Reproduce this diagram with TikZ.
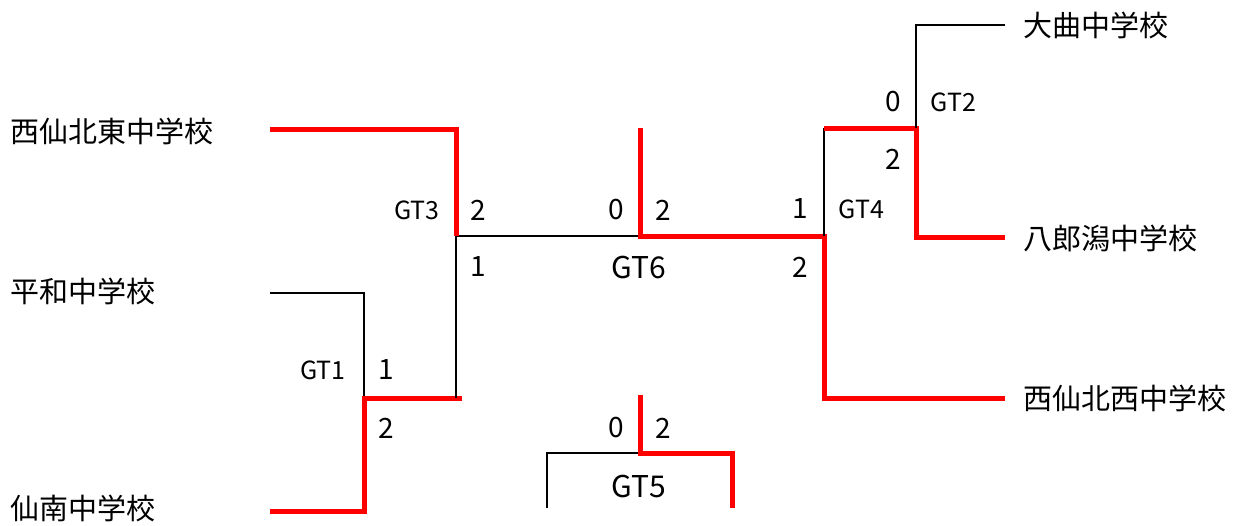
\documentclass[tikz,border=0pt]{standalone}
\usepackage{fontspec}
\setmainfont{Noto Sans CJK JP}
\begin{document}
\begin{tikzpicture}[x=0.5pt,y=-0.5pt,
	win/.style={red,line width=2.5pt},
	lose/.style={black,line width=0.8pt},
	team/.style={anchor=west,inner sep=0pt,font=\fontsize{14.5}{16}\selectfont},
	score/.style={inner sep=0pt,font=\fontsize{14}{16}\selectfont},
	gt/.style={inner sep=0pt,font=\fontsize{12.5}{14}\selectfont},
	gtbig/.style={inner sep=0pt,font=\fontsize{15}{17}\selectfont}]
		\useasboundingbox (0,0) rectangle (1236,525);
		\node[team] (nishiE) at (10,131) {西仙北東中学校};
		\node[team] (heiwa) at (10,291) {平和中学校};
		\node[team] (sennan) at (10,508) {仙南中学校};
		\node[team] (omagari) at (1023,25) {大曲中学校};
		\node[team] (hachiro) at (1023,238) {八郎潟中学校};
		\node[team] (nishiW) at (1023,398) {西仙北西中学校};
		\coordinate (e1) at (270,129);
		\coordinate (e2) at (270,293);
		\coordinate (e3) at (270,511);
		\coordinate (e4) at (1005,25);
		\coordinate (e5) at (1005,237);
		\coordinate (e6) at (1005,398);
		\coordinate (g1) at (364,398);
		\coordinate (g2) at (916,128);
		\coordinate (g3) at (456,236);
		\coordinate (g4) at (824,236);
		\coordinate (g6) at (640,236);
		\coordinate (g5) at (640,453);
		\coordinate (g5t) at (640,395);
		\coordinate (g5l) at (547,508);
		\coordinate (g5r) at (732,508);
		% GT1, GT3
		\draw[lose] (e2) -| (g1);
		\draw[win] (e3) -| (g1) -- ([xshift=3]g1 -| g3);
		\draw[lose] (g1 -| g3) -- (g3) -- (g6);
		\draw[win] (e1) -| (g3);
		% GT6, GT4, GT2
		\draw[win] (g6 |- g2) -- (g6) -- (g4) |- (e6);
		\draw[lose] (g4) -- (g4 |- g2);
		\draw[win] (g4 |- g2) -- (g2) |- (e5);
		\draw[lose] (g2) |- (e4);
		% GT5
		\draw[lose] (g5l) |- (g5);
		\draw[win] (g5t) -- (g5) -| (g5r);
		% labels
		\node[gt,anchor=east] (gt1) at (346,370) {GT1};
		\node[score] (s1a) at (386,370) {1};
		\node[score] (s1b) at (386,428) {2};
		\node[gt,anchor=east] (gt3) at (440,210) {GT3};
		\node[score] (s3a) at (478,210) {2};
		\node[score] (s3b) at (478,267) {1};
		\node[score] (s6a) at (616,210) {0};
		\node[score] (s6b) at (663,210) {2};
		\node[gtbig] (gt6) at (639,267) {GT6};
		\node[score] (s4a) at (800,209) {1};
		\node[score] (s4b) at (800,267) {2};
		\node[gt,anchor=west] (gt4) at (838,209) {GT4};
		\node[score] (s2a) at (893,102) {0};
		\node[score] (s2b) at (893,159) {2};
		\node[gt,anchor=west] (gt2) at (930,102) {GT2};
		\node[score] (s5a) at (616,428) {0};
		\node[score] (s5b) at (663,428) {2};
		\node[gtbig] (gt5) at (639,486) {GT5};
	    \end{tikzpicture}
\end{document}
